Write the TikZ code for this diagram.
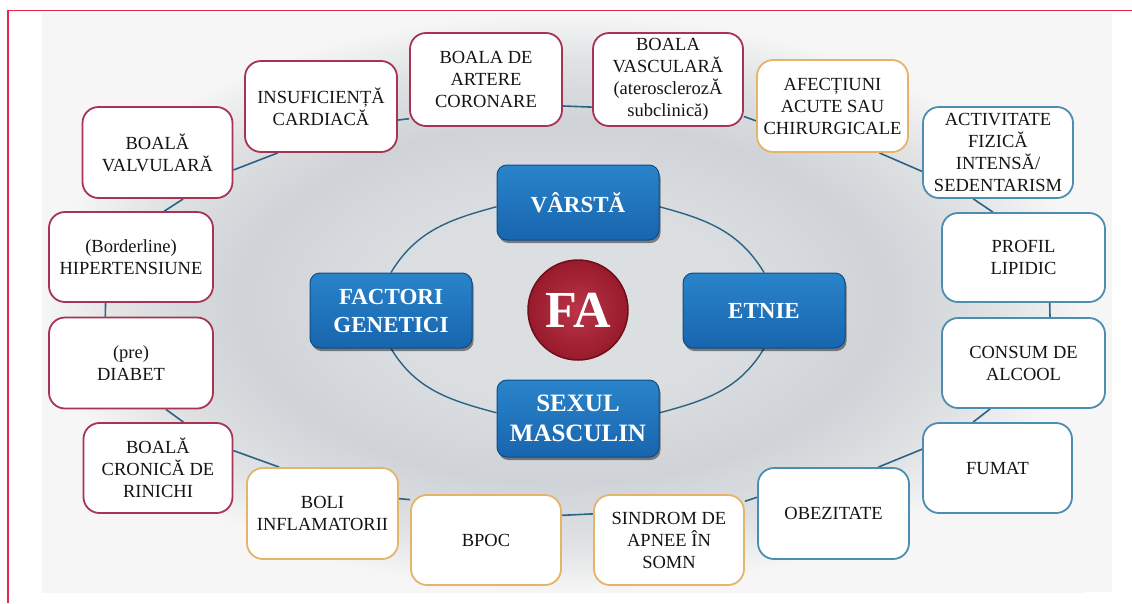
\documentclass[tikz,border=0pt]{standalone}
\usepackage{fontspec}
\setmainfont{Liberation Serif}
\usetikzlibrary{shadows}
\definecolor{panelc}{HTML}{F6F6F6}
\definecolor{hA}{HTML}{DCDFE2}
\definecolor{hB}{HTML}{CFD3D7}
\definecolor{hC}{HTML}{E0E2E4}
\definecolor{redline}{HTML}{E2284C}
\definecolor{maroon}{HTML}{A93352}
\definecolor{gold}{HTML}{E6B36A}
\definecolor{tealb}{HTML}{4C8DB1}
\definecolor{linkc}{HTML}{2C6383}
\definecolor{txt}{HTML}{141414}
\definecolor{blueT}{HTML}{2A84CA}
\definecolor{blueB}{HTML}{1865AE}
\definecolor{blueD}{HTML}{0E4C88}
\definecolor{faR}{HTML}{B21F33}
\definecolor{faD}{HTML}{6E0F1B}
\pgfdeclareradialshading{halo}{\pgfpoint{0bp}{0bp}}{color(0bp)=(hA); color(8bp)=(hA); color(15.5bp)=(hB); color(21bp)=(hC); color(25bp)=(panelc); color(50bp)=(panelc)}
\pgfdeclarelayer{bg}
\pgfdeclarelayer{conn}
\pgfsetlayers{bg,conn,main}
\begin{document}
\begin{tikzpicture}[x=1pt,y=-1pt,
  box/.style={draw, line width=1.8pt, fill=white, rounded corners=16pt, inner sep=0pt,
    align=center, text=txt, font=\fontsize{18.5}{22}\selectfont,
    minimum width=150pt, minimum height=91pt},
  mbox/.style={box, draw=maroon},
  obox/.style={box, draw=gold},
  tbox/.style={box, draw=tealb},
  bbox/.style={rounded corners=10pt, top color=blueT, bottom color=blueB, draw=blueD,
    line width=1pt, text=white, font=\bfseries\fontsize{23}{28}\selectfont, align=center,
    minimum width=162pt, minimum height=75pt, inner sep=0pt,
    drop shadow={shadow xshift=1.5pt, shadow yshift=-3pt, fill=black, opacity=0.45}},
  fanode/.style={circle, minimum size=100pt, inner sep=0pt, inner color=faR!90!white, outer color=faR!85!black,
    draw=faD, line width=1.5pt, text=white, font=\bfseries\fontsize{52}{52}\selectfont},
  link/.style={draw=linkc, line width=1.6pt},
  ring/.style={draw=linkc, line width=1.4pt}]
\useasboundingbox (0,0) rectangle (1132,603);
\begin{pgfonlayer}{bg}
  \fill[white] (0,0) rectangle (1132,603);
  \fill[panelc] (42,13) rectangle (1112,592);
  \shade[shading=halo] (42,13) rectangle (1085,592);
  \draw[redline, line width=1.5pt] (8,603) -- (8,10.5) -- (1132,10.5);
\end{pgfonlayer}

% outer boxes
\node[mbox] (valv) at (157.5,152.5) {BOALĂ\\VALVULARĂ};
\node[mbox, minimum width=152pt] (insuf) at (321,106.5) {INSUFICIENȚĂ\\CARDIACĂ};
\node[mbox, minimum width=152pt, minimum height=93pt] (art) at (486,79.5) {BOALA DE\\ARTERE\\CORONARE};
\node[mbox, minimum height=93pt] (vasc) at (668,79.5) {BOALA\\VASCULARĂ\\(aterosclerozĂ\\subclinică)};
\node[mbox, minimum width=164pt, minimum height=90pt] (hip) at (131,257) {(Borderline)\\HIPERTENSIUNE};
\node[mbox, minimum width=164pt] (diab) at (131,363) {(pre)\\DIABET};
\node[mbox, minimum width=149pt, minimum height=90pt] (cron) at (158,468) {BOALĂ\\CRONICĂ DE\\RINICHI};
\node[obox, minimum width=151pt, minimum height=92pt] (afec) at (832.5,106) {AFECȚIUNI\\ACUTE SAU\\CHIRURGICALE};
\node[obox, minimum width=151pt] (boli) at (322.5,513.5) {BOLI\\INFLAMATORII};
\node[obox, minimum height=90pt] (bpoc) at (486,540) {BPOC};
\node[obox, minimum height=90pt] (sind) at (669,540) {SINDROM DE\\APNEE ÎN\\SOMN};
\node[tbox] (activ) at (998,152.5) {ACTIVITATE\\FIZICĂ\\INTENSĂ/\\SEDENTARISM};
\node[tbox, minimum width=163pt, minimum height=89pt] (prof) at (1023.5,257.5) {PROFIL\\LIPIDIC};
\node[tbox, minimum width=163pt, minimum height=90pt] (cons) at (1023.5,363) {CONSUM DE\\ALCOOL};
\node[tbox, minimum width=149pt, minimum height=90pt] (fumat) at (997.5,468) {FUMAT};
\node[tbox, minimum width=151pt] (obez) at (833.5,513.5) {OBEZITATE};

% inner boxes
\node[bbox] (varsta) at (578,202.5) {VÂRSTĂ};
\node[bbox] (fact) at (391,310.5) {FACTORI\\GENETICI};
\node[bbox] (etnie) at (764,310.5) {ETNIE};
\node[bbox, minimum height=77pt, font=\bfseries\fontsize{25}{30}\selectfont] (sexul) at (578,418.5) {SEXUL\\MASCULIN};
\node[fanode] (fa) at (578,310) {FA};

\begin{pgfonlayer}{conn}
  % outer ring
  \draw[link] (valv.-61.7) -- (hip.54.6);
  \draw[link] (valv.-13.9) -- (insuf.-133.4);
  \draw[link] (insuf.-10) -- (art.-153.1);
  \draw[link] (art.-19.2) -- (vasc.-160.5);
  \draw[link] (vasc.-26.6) -- (afec.-169.4);
  \draw[link] (afec.-45.3) -- (activ.-166.9);
  \draw[link] (activ.-118.8) -- (prof.124.7);
  \draw[link] (prof.-60.2) -- (cons.60.5);
  \draw[link] (cons.-126.7) -- (fumat.118.6);
  \draw[link] (fumat.166.4) -- (obez.46.3);
  \draw[link] (obez.168.4) -- (sind.27.5);
  \draw[link] (sind.161.6) -- (bpoc.18.4);
  \draw[link] (bpoc.152.5) -- (boli.11);
  \draw[link] (boli.133.7) -- (cron.13.6);
  \draw[link] (cron.61.4) -- (diab.-53.3);
  \draw[link] (diab.119.5) -- (hip.-119.8);
  % inner ring
  \draw[ring] (varsta.-3) to[out=-15, in=121] (etnie.north);
  \draw[ring] (etnie.south) to[out=-121, in=15] (sexul.4);
  \draw[ring] (sexul.176) to[out=165, in=-59] (fact.south);
  \draw[ring] (fact.north) to[out=59, in=-165] (varsta.183);
\end{pgfonlayer}
\end{tikzpicture}
\end{document}
